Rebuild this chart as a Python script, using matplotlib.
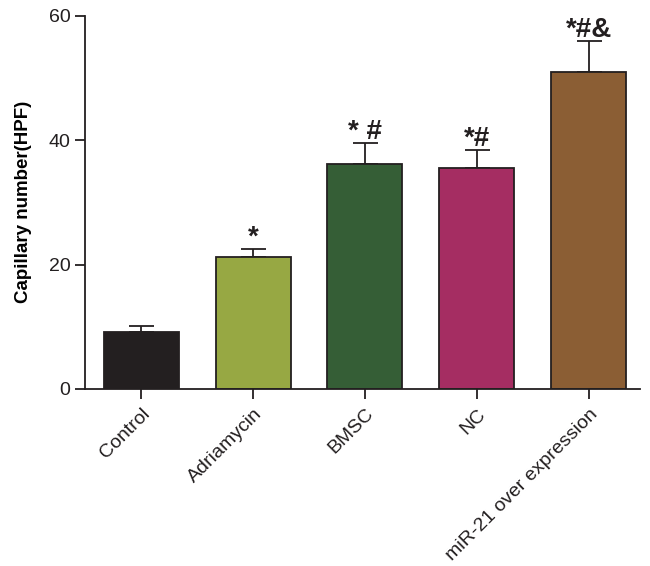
import matplotlib
matplotlib.use("Agg")
import matplotlib.pyplot as plt
import numpy as np

plt.rcParams['font.family'] = ['Liberation Sans', 'DejaVu Sans']

groups = ["Control", "Adriamycin", "BMSC", "NC", "miR-21 over expression"]
means = [9.2, 21.2, 36.2, 35.5, 51.0]
errors = [0.9, 1.3, 3.3, 2.9, 5.0]
marks = ["", "*", "* #", "*#", "*#&"]
colors = ["#231f20", "#97a843", "#355e36", "#a52d62", "#8b5e34"]

fig = plt.figure(figsize=(6.5, 5.66), dpi=100)
ax = fig.add_axes([0.131, 0.313, 0.854, 0.659])

x = np.arange(len(groups))
ax.bar(x, means, width=0.67, color=colors, edgecolor="#231f20", linewidth=1.3, zorder=2)
ax.errorbar(x, means, yerr=[np.zeros(len(errors)), errors], fmt="none",
            ecolor="#231f20", elinewidth=1.3, capsize=9, capthick=1.3, zorder=1)

for xi, m, e, t in zip(x, means, errors, marks):
    if t:
        ax.text(xi, m + e - 0.3, t, ha="center", va="bottom",
                fontsize=20, fontweight="bold", color="#231f20")

ax.set_xlim(-0.5, 4.46)
ax.set_ylim(0, 60)
ax.set_yticks([0, 20, 40, 60])
ax.set_xticks(x)
ax.set_xticklabels(groups, rotation=45, ha="right", rotation_mode="anchor", fontsize=14)
ax.tick_params(axis="y", labelsize=14, length=7, width=1.3, colors="#231f20")
ax.tick_params(axis="x", length=7, width=1.3, colors="#231f20", pad=5)
for s in ["left", "bottom"]:
    ax.spines[s].set_linewidth(1.3)
    ax.spines[s].set_color("#231f20")
ax.spines["top"].set_visible(False)
ax.spines["right"].set_visible(False)
ax.set_ylabel("Capillary number(HPF)", fontsize=13.5, fontweight="bold", labelpad=12)

fig.savefig("out.png", dpi=100)
